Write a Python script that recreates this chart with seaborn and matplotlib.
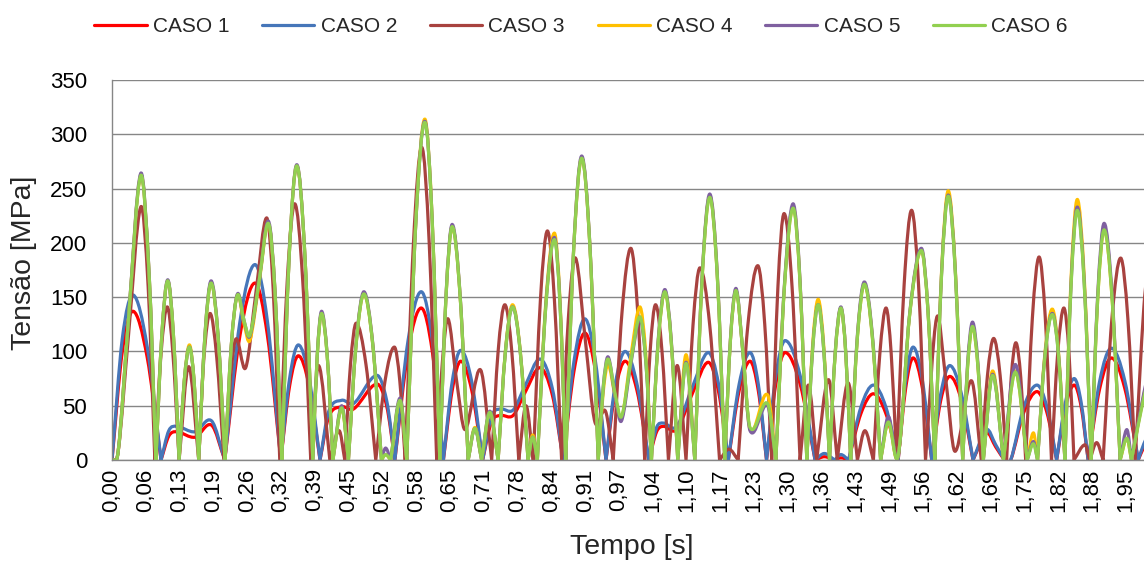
import matplotlib
matplotlib.use("Agg")
import matplotlib.pyplot as plt
from matplotlib.path import Path
from matplotlib.patches import PathPatch
from matplotlib.lines import Line2D
import seaborn as sns
import numpy as np

# ---------------- data ----------------
series_names = ["CASO 1", "CASO 2", "CASO 3", "CASO 4", "CASO 5", "CASO 6"]

# CASO 1 / CASO 2 (same time instants)
t_a = [0.000, 0.020, 0.041, 0.068, 0.095, 0.110, 0.125, 0.161, 0.193, 0.2185,
       0.248, 0.277, 0.301, 0.327, 0.344, 0.361, 0.382, 0.403, 0.420, 0.445,
       0.468, 0.513, 0.532, 0.548, 0.5735, 0.599, 0.6205, 0.642, 0.659, 0.6755,
       0.697, 0.718, 0.735, 0.752, 0.777, 0.800, 0.829, 0.853, 0.874, 0.895,
       0.916, 0.9365, 0.957, 0.975, 0.994, 1.017, 1.040, 1.055, 1.068, 1.094,
       1.125, 1.155, 1.175, 1.194, 1.215, 1.236, 1.252, 1.268, 1.286, 1.304,
       1.333, 1.362, 1.380, 1.400, 1.412, 1.427, 1.451, 1.475, 1.499, 1.523,
       1.5375, 1.552, 1.570, 1.588, 1.6055, 1.623, 1.6455, 1.668, 1.694, 1.712,
       1.730, 1.741, 1.7665, 1.792, 1.811, 1.830, 1.847, 1.864, 1.8775, 1.891,
       1.9135, 1.936, 1.962, 1.988, 1.999, 2.010]
caso1 = [0, 100, 137, 95, 0, 22, 26, 21, 32, 0,
         115, 163, 115, 0, 68, 96, 68, 0, 40, 49,
         47, 70, 50, 0, 100, 140, 100, 0, 64, 91,
         64, 0, 35, 41, 41, 62, 85, 60, 0, 82,
         117, 82, 0, 64, 91, 64, 0, 26, 31, 28,
         62, 90, 63, 0, 64, 91, 64, 0, 70, 99,
         70, 0, 3, 0, 2, 0, 43, 61, 43, 0,
         66, 94, 66, 0, 55, 77, 55, 0, 25, 12,
         0, 0, 44, 63, 44, 0, 49, 69, 49, 0,
         66, 94, 66, 0, 12, 22]
caso2 = [0, 112, 152, 105, 0, 27, 31, 26, 36, 0,
         128, 180, 128, 0, 75, 106, 75, 0, 45, 55,
         52, 78, 55, 0, 110, 155, 110, 0, 72, 101,
         72, 0, 40, 47, 46, 68, 93, 66, 0, 91,
         130, 91, 0, 70, 100, 70, 0, 30, 34, 31,
         68, 99, 70, 0, 70, 99, 70, 0, 78, 110,
         78, 0, 6, 0, 5, 0, 49, 69, 49, 0,
         73, 104, 73, 0, 61, 87, 61, 0, 28, 14,
         0, 0, 49, 69, 49, 0, 53, 75, 53, 0,
         73, 103, 73, 0, 15, 26]

# CASO 3
t_b = [0.000, 0.012, 0.032, 0.0556, 0.070, 0.083, 0.095, 0.107, 0.118, 0.130,
       0.1485, 0.168, 0.178, 0.190, 0.203, 0.217, 0.238, 0.259, 0.279, 0.2996,
       0.3125, 0.325, 0.3395, 0.354, 0.3695, 0.385, 0.400, 0.422, 0.440, 0.451,
       0.462, 0.473, 0.492, 0.511, 0.529, 0.547, 0.5575, 0.568, 0.584, 0.600,
       0.6145, 0.629, 0.640, 0.651, 0.667, 0.684, 0.714, 0.7355, 0.748, 0.761,
       0.7745, 0.788, 0.802, 0.816, 0.830, 0.8435, 0.857, 0.871, 0.884, 0.898,
       0.917, 0.9355, 0.956, 0.971, 0.988, 1.005, 1.0185, 1.032, 1.0425, 1.053,
       1.0655, 1.078, 1.095, 1.112, 1.1255, 1.139, 1.158, 1.177, 1.195, 1.213,
       1.232, 1.251, 1.2645, 1.278, 1.290, 1.302, 1.3175, 1.333, 1.349, 1.365,
       1.388, 1.405, 1.426, 1.444, 1.4585, 1.475, 1.4875, 1.4995, 1.5095, 1.520,
       1.5345, 1.549, 1.5625, 1.576, 1.5975, 1.615, 1.633, 1.665, 1.684, 1.696,
       1.708, 1.7205, 1.733, 1.742, 1.751, 1.7605, 1.770, 1.783, 1.796, 1.808,
       1.820, 1.832, 1.844, 1.854, 1.8636, 1.885, 1.894, 1.9075, 1.920, 1.937,
       1.954, 1.968, 1.982, 1.999, 2.010]
caso3 = [0, 8, 115, 233, 160, 0, 98, 141, 98, 0,
         86, 0, 94, 135, 94, 0, 109, 85, 155, 223,
         155, 0, 165, 236, 165, 0, 87, 0, 27, 0,
         88, 126, 88, 0, 73, 104, 73, 0, 200, 288,
         200, 0, 90, 130, 75, 28, 83, 0, 100, 143,
         100, 0, 50, 0, 148, 211, 148, 0, 130, 186,
         110, 35, 45, 0, 136, 195, 136, 0, 100, 143,
         100, 0, 87, 0, 124, 177, 124, 0, 10, 0,
         125, 179, 125, 0, 159, 227, 159, 0, 69, 0,
         74, 0, 71, 0, 27, 0, 98, 140, 98, 0,
         161, 230, 161, 0, 131, 75, 8, 73, 0, 78,
         112, 78, 0, 76, 108, 76, 0, 131, 187, 131,
         0, 98, 140, 98, 0, 14, 0, 16, 0, 130,
         186, 130, 0, 141, 190]

# CASO 4 / CASO 5 / CASO 6 (same time instants)
t_c = [0.000, 0.012, 0.032, 0.0556, 0.072, 0.085, 0.0965, 0.108, 0.119, 0.130,
       0.140, 0.150, 0.159, 0.168, 0.180, 0.192, 0.2055, 0.219, 0.231, 0.243,
       0.256, 0.267, 0.285, 0.303, 0.316, 0.329, 0.3435, 0.358, 0.3735, 0.389,
       0.3975, 0.406, 0.417, 0.428, 0.445, 0.458, 0.473, 0.488, 0.505, 0.522,
       0.530, 0.540, 0.558, 0.571, 0.5885, 0.606, 0.6205, 0.635, 0.647, 0.659,
       0.6745, 0.690, 0.703, 0.716, 0.732, 0.748, 0.762, 0.776, 0.791, 0.806,
       0.815, 0.824, 0.8405, 0.857, 0.868, 0.879, 0.8945, 0.910, 0.926, 0.942,
       0.9515, 0.961, 0.975, 0.987, 1.005, 1.0225, 1.034, 1.045, 1.058, 1.071,
       1.0835, 1.096, 1.112, 1.129, 1.1435, 1.158, 1.1725, 1.187, 1.198, 1.209,
       1.222, 1.236, 1.270, 1.286, 1.303, 1.3195, 1.333, 1.346, 1.357, 1.368,
       1.379, 1.390, 1.401, 1.412, 1.4215, 1.431, 1.444, 1.4575, 1.473, 1.489,
       1.504, 1.523, 1.5455, 1.568, 1.581, 1.594, 1.607, 1.620, 1.634, 1.648,
       1.6575, 1.667, 1.6775, 1.688, 1.706, 1.727, 1.750, 1.773, 1.785, 1.793,
       1.807, 1.8215, 1.834, 1.846, 1.858, 1.870, 1.8835, 1.897, 1.9095, 1.922,
       1.9375, 1.953, 1.966, 1.975, 1.999, 2.010]
caso4 = [0, 8, 130, 262, 170, 0, 115, 165, 115, 0,
         73, 106, 73, 0, 114, 163, 114, 0, 105, 152,
         125, 110, 163, 218, 153, 0, 190, 271, 190, 0,
         95, 135, 95, 0, 48, 0, 107, 153, 107, 0,
         5, 0, 55, 0, 219, 314, 219, 0, 150, 215,
         150, 0, 30, 0, 44, 0, 100, 143, 100, 0,
         23, 0, 146, 209, 146, 0, 195, 278, 195, 0,
         62, 88, 58, 38, 95, 141, 98, 0, 108, 155,
         108, 0, 97, 0, 170, 243, 170, 0, 110, 156,
         100, 28, 60, 0, 162, 233, 162, 0, 104, 148,
         104, 0, 98, 140, 98, 0, 113, 162, 113, 0,
         35, 4, 135, 193, 135, 0, 173, 248, 173, 0,
         86, 123, 86, 0, 82, 0, 82, 0, 25, 0,
         97, 139, 97, 0, 168, 240, 168, 0, 148, 212,
         148, 0, 20, 0, 60, 80]
caso5 = [0, 8, 131, 264, 171, 0, 115, 166, 115, 0,
         73, 104, 73, 0, 115, 165, 115, 0, 105, 153,
         128, 114, 165, 220, 154, 0, 190, 272, 190, 0,
         96, 137, 96, 0, 50, 0, 108, 155, 108, 0,
         11, 0, 57, 0, 218, 312, 218, 0, 151, 217,
         151, 0, 29, 0, 45, 0, 99, 141, 99, 0,
         21, 0, 143, 205, 143, 0, 196, 280, 196, 0,
         67, 95, 58, 36, 88, 130, 91, 0, 110, 157,
         110, 0, 90, 0, 172, 245, 172, 0, 111, 158,
         100, 27, 50, 0, 164, 236, 164, 0, 100, 143,
         100, 0, 99, 141, 99, 0, 115, 164, 115, 0,
         40, 4, 136, 195, 136, 0, 171, 244, 171, 0,
         89, 127, 89, 0, 79, 0, 88, 0, 17, 0,
         95, 135, 95, 0, 163, 233, 163, 0, 152, 218,
         152, 0, 28, 0, 62, 82]
caso6 = [0, 8, 130, 262, 170, 0, 115, 165, 115, 0,
         73, 104, 73, 0, 114, 163, 114, 0, 105, 152,
         128, 115, 165, 218, 153, 0, 190, 271, 190, 0,
         95, 135, 95, 0, 48, 0, 107, 153, 107, 0,
         5, 0, 55, 0, 218, 311, 218, 0, 150, 215,
         150, 0, 29, 0, 44, 0, 99, 141, 99, 0,
         21, 0, 142, 203, 142, 0, 195, 278, 195, 0,
         66, 93, 60, 40, 90, 132, 92, 0, 108, 155,
         108, 0, 89, 0, 170, 242, 170, 0, 110, 156,
         100, 30, 52, 0, 162, 232, 162, 0, 100, 143,
         100, 0, 98, 140, 98, 0, 113, 162, 113, 0,
         35, 4, 135, 193, 135, 0, 170, 243, 170, 0,
         86, 123, 86, 0, 78, 0, 81, 0, 15, 0,
         94, 134, 94, 0, 161, 230, 161, 0, 148, 212,
         148, 0, 20, 0, 58, 78]

x_tick_labels = ["0,00", "0,06", "0,13", "0,19", "0,26", "0,32", "0,39", "0,45",
                 "0,52", "0,58", "0,65", "0,71", "0,78", "0,84", "0,91", "0,97",
                 "1,04", "1,10", "1,17", "1,23", "1,30", "1,36", "1,43", "1,49",
                 "1,56", "1,62", "1,69", "1,75", "1,82", "1,88", "1,95"]
y_ticks = [0, 50, 100, 150, 200, 250, 300, 350]

data = [(t_a, caso1), (t_a, caso2), (t_b, caso3),
        (t_c, caso4), (t_c, caso5), (t_c, caso6)]
for tt, vv in data:
    assert len(tt) == len(vv), (len(tt), len(vv))


def smoothed_path(t, v):
    """Excel-like 'smoothed line': cubic Bezier segments through the data points
    (drawn by matplotlib), with sharp cusps at zero-valued minima."""
    t = np.asarray(t, float)
    v = np.asarray(v, float)
    n = len(t)
    m_in = np.zeros(n)
    m_out = np.zeros(n)
    for i in range(n):
        if i == 0:
            s = (v[1] - v[0]) / (t[1] - t[0])
            m_in[i] = m_out[i] = s
        elif i == n - 1:
            s = (v[-1] - v[-2]) / (t[-1] - t[-2])
            m_in[i] = m_out[i] = s
        else:
            left = (v[i] - v[i - 1]) / (t[i] - t[i - 1])
            right = (v[i + 1] - v[i]) / (t[i + 1] - t[i])
            if v[i] <= 0 and v[i - 1] > 0 and v[i + 1] > 0:
                m_in[i], m_out[i] = left, right
            else:
                s = (v[i + 1] - v[i - 1]) / (t[i + 1] - t[i - 1])
                m_in[i] = m_out[i] = s
    verts = [(t[0], v[0])]
    codes = [Path.MOVETO]
    for i in range(n - 1):
        dt = t[i + 1] - t[i]
        verts += [(t[i] + dt / 3, v[i] + m_out[i] * dt / 3),
                  (t[i + 1] - dt / 3, v[i + 1] - m_in[i + 1] * dt / 3),
                  (t[i + 1], v[i + 1])]
        codes += [Path.CURVE4] * 3
    return Path(verts, codes)


# ---------------- style ----------------
sns.set_theme(style="white")
plt.rcParams["font.family"] = ["Liberation Sans", "DejaVu Sans"]

colors = ["#FF0000", "#4676B9", "#A8423F", "#FFC000", "#7F60A0", "#92D050"]
LW = 2.3
W, H = 1144, 563
fig = plt.figure(figsize=(W / 100, H / 100), dpi=100)
ax = fig.add_axes([112 / W, 1 - 460 / H, (W - 112) / W, 380 / H])

for (tt, vv), col in zip(data, colors):
    patch = PathPatch(smoothed_path(tt, vv), facecolor="none", edgecolor=col,
                      linewidth=LW, capstyle="round", joinstyle="round")
    ax.add_patch(patch)

x_px_per_s = 516.2      # horizontal scale of the plot area
label_step_px = 33.8    # distance between two category labels
ax.set_xlim(0, 1032 / x_px_per_s)
ax.set_ylim(0, 350)
ax.set_yticks(y_ticks)
ax.set_xticks(np.arange(len(x_tick_labels)) * label_step_px / x_px_per_s)
ax.set_xticklabels(x_tick_labels)
ax.yaxis.grid(True, color="#868686", linewidth=1.0)
ax.xaxis.grid(False)
ax.set_axisbelow(True)
for s in ["top", "right"]:
    ax.spines[s].set_visible(False)
for s in ["left", "bottom"]:
    ax.spines[s].set_color("#868686")
    ax.spines[s].set_linewidth(1.0)
ax.tick_params(axis="y", length=0, pad=18, labelsize=16, colors="black")
ax.tick_params(axis="x", length=0, pad=6, labelsize=16, labelrotation=90, colors="black")

fig.text(24 / W, 1 - 263 / H, "Tensão [MPa]", rotation=90, ha="center", va="center",
         fontsize=20.5)
fig.text(631.5 / W, 1 - 547 / H, "Tempo [s]", ha="center", va="center", fontsize=20.5)

handles = [Line2D([], [], color=c, linewidth=LW) for c in colors]
fig.legend(handles, series_names, loc="center", bbox_to_anchor=(0.508, 1 - 27 / H),
           ncol=6, frameon=False, fontsize=15, handlelength=2.5, handletextpad=0.3,
           columnspacing=1.58)

fig.savefig("out.png", dpi=100)
